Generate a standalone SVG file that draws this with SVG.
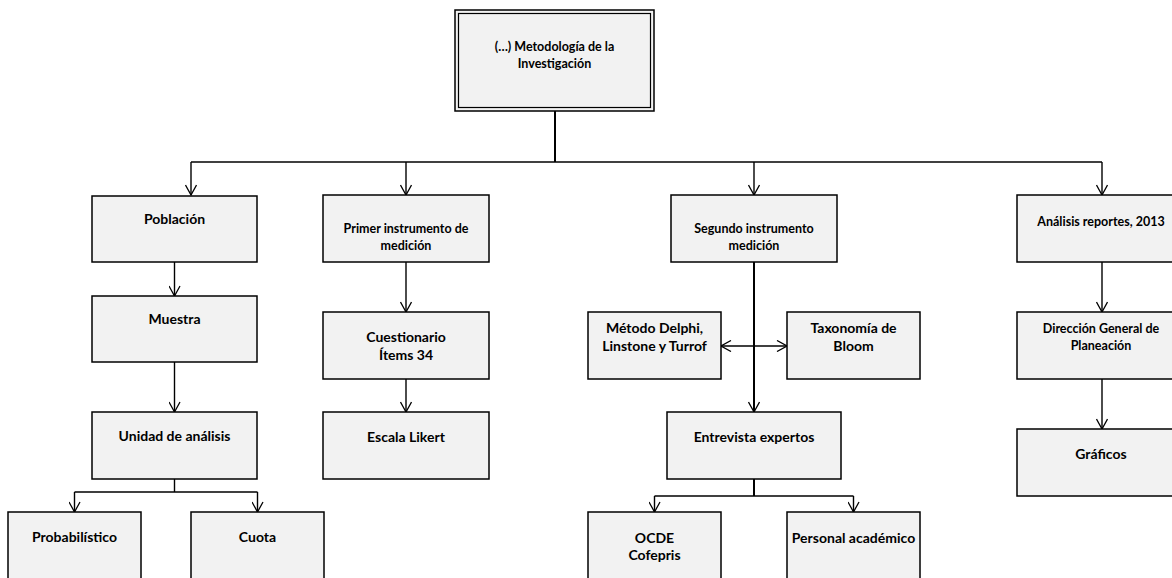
<svg xmlns="http://www.w3.org/2000/svg" width="1172" height="578" viewBox="0 0 1172 578">
<defs>
<style>
.box{fill:#f2f2f2;stroke:#000;stroke-width:1.5}
.t{font-family:Lato,"Liberation Sans",sans-serif;font-weight:bold;fill:#000;text-anchor:middle}
.s{font-size:12.5px}
.m{font-size:14px}
.c{fill:none;stroke:#000;stroke-width:1.4}
.thick{stroke-width:2}
</style>
<marker id="arr" viewBox="0 0 12 12" refX="11" refY="6" markerWidth="12" markerHeight="12" markerUnits="userSpaceOnUse" orient="auto-start-reverse">
<path d="M1,0.5 L11,6 L1,11.5" fill="none" stroke="#000" stroke-width="1.3"/>
</marker>
</defs>
<rect width="1172" height="578" fill="#fff"/>
<g id="connectors">
<path class="c thick" d="M555,111 V162"/>
<path class="c" d="M191,162 H1102"/>
<path class="c" d="M191,162 V195" marker-end="url(#arr)"/>
<path class="c" d="M406,162 V195" marker-end="url(#arr)"/>
<path class="c" d="M754,162 V195" marker-end="url(#arr)"/>
<path class="c" d="M1102,162 V195" marker-end="url(#arr)"/>
<path class="c" d="M174.5,262 V296" marker-end="url(#arr)"/>
<path class="c" d="M174.5,362 V412" marker-end="url(#arr)"/>
<path class="c" d="M174.5,479 V492 M74.5,492 H257.5"/>
<path class="c" d="M74.5,492 V512" marker-end="url(#arr)"/>
<path class="c" d="M257.5,492 V512" marker-end="url(#arr)"/>
<path class="c" d="M406,262 V312" marker-end="url(#arr)"/>
<path class="c" d="M406,379 V412" marker-end="url(#arr)"/>
<path class="c thick" d="M754,262 V411"/>
<path class="c" d="M754,400 V412" marker-end="url(#arr)"/>
<path class="c" d="M721,346 H787" marker-start="url(#arr)" marker-end="url(#arr)"/>
<path class="c thick" d="M754,479 V496"/>
<path class="c" d="M654.5,496 H853.5"/>
<path class="c" d="M654.5,496 V512" marker-end="url(#arr)"/>
<path class="c" d="M853.5,496 V512" marker-end="url(#arr)"/>
<path class="c" d="M1102,262 V312" marker-end="url(#arr)"/>
<path class="c" d="M1102,379 V429" marker-end="url(#arr)"/>
</g>
<g id="root">
<rect x="455" y="10" width="199" height="101" fill="#f2f2f2" stroke="#000" stroke-width="1.5"/>
<rect x="458.5" y="13.5" width="192" height="94" fill="none" stroke="#000" stroke-width="1.2"/>
<text class="t s" x="554.5" y="51">(…) Metodología de la</text>
<text class="t s" x="554.5" y="68">Investigación</text>
</g>
<g id="poblacion"><rect class="box" x="92" y="196" width="165" height="66"/><text class="t m" x="174.5" y="224">Población</text></g>
<g id="muestra"><rect class="box" x="92" y="296" width="165" height="66"/><text class="t m" x="174.5" y="324">Muestra</text></g>
<g id="unidad"><rect class="box" x="92" y="412" width="165" height="67"/><text class="t m" x="174.5" y="441">Unidad de análisis</text></g>
<g id="probabilistico"><rect class="box" x="8" y="512" width="133" height="72"/><text class="t m" x="74.5" y="542">Probabilístico</text></g>
<g id="cuota"><rect class="box" x="191" y="512" width="133" height="72"/><text class="t m" x="257.5" y="542">Cuota</text></g>
<g id="primer"><rect class="box" x="323" y="195" width="166" height="67"/><text class="t s" x="406" y="233">Primer instrumento de</text><text class="t s" x="406" y="250">medición</text></g>
<g id="cuestionario"><rect class="box" x="323" y="312" width="166" height="67"/><text class="t m" x="406" y="342">Cuestionario</text><text class="t m" x="406" y="360">Ítems 34</text></g>
<g id="likert"><rect class="box" x="323" y="412" width="166" height="67"/><text class="t m" x="406" y="442">Escala Likert</text></g>
<g id="segundo"><rect class="box" x="671" y="195" width="166" height="67"/><text class="t s" x="754" y="233">Segundo instrumento</text><text class="t s" x="754" y="250">medición</text></g>
<g id="delphi"><rect class="box" x="588" y="312" width="133" height="67"/><text class="t m" x="654.5" y="333">Método Delphi,</text><text class="t m" x="654.5" y="351">Linstone y Turrof</text></g>
<g id="bloom"><rect class="box" x="787" y="312" width="133" height="67"/><text class="t m" x="853.5" y="333">Taxonomía de</text><text class="t m" x="853.5" y="351">Bloom</text></g>
<g id="entrevista"><rect class="box" x="667" y="412" width="174" height="67"/><text class="t m" x="754" y="442">Entrevista expertos</text></g>
<g id="ocde"><rect class="box" x="588" y="512" width="133" height="72"/><text class="t m" x="654.5" y="543">OCDE</text><text class="t m" x="654.5" y="560">Cofepris</text></g>
<g id="personal"><rect class="box" x="787" y="512" width="133" height="72"/><text class="t m" x="853.5" y="543">Personal académico</text></g>
<g id="analisis"><rect class="box" x="1017" y="195" width="170" height="67"/><text class="t s" x="1101" y="226">Análisis reportes, 2013</text></g>
<g id="direccion"><rect class="box" x="1017" y="312" width="170" height="67"/><text class="t s" x="1101" y="333">Dirección General de</text><text class="t s" x="1101" y="350">Planeación</text></g>
<g id="graficos"><rect class="box" x="1017" y="429" width="170" height="67"/><text class="t m" x="1101" y="459">Gráficos</text></g>
</svg>
